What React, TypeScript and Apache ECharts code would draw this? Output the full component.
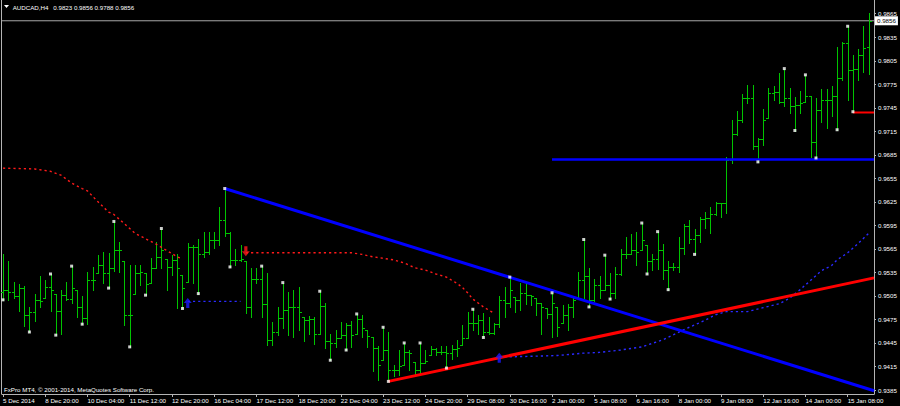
import React, { useEffect, useRef } from "react";
import * as echarts from "echarts";

// ---------- data ----------
const symbolName = "AUDCAD,H4";
const headerQuote = "0.9823 0.9856 0.9788 0.9856";
const copyright = "FxPro MT4, © 2001-2014, MetaQuotes Software Corp.";
const bidPrice = 0.9856;

const timeTickBars = [0, 8, 16, 24, 32, 40, 48, 56, 64, 72, 80, 88, 96, 104, 112, 120, 128, 136, 144, 152, 160];
const timeLabels = [
  "5 Dec 2014", "8 Dec 20:00", "10 Dec 04:00", "11 Dec 12:00", "12 Dec 20:00", "16 Dec 04:00",
  "17 Dec 12:00", "18 Dec 20:00", "22 Dec 04:00", "23 Dec 12:00", "24 Dec 20:00", "29 Dec 08:00",
  "30 Dec 16:00", "2 Jan 00:00", "5 Jan 08:00", "6 Jan 16:00", "8 Jan 00:00", "9 Jan 08:00",
  "12 Jan 16:00", "14 Jan 00:00", "15 Jan 08:00",
];
const priceTicks = [
  0.9385, 0.9415, 0.9445, 0.9475, 0.9505, 0.9535, 0.9565, 0.9595, 0.9625,
  0.9655, 0.9685, 0.9715, 0.9745, 0.9775, 0.9805, 0.9835, 0.9865,
];

const opens = [
  0.9510, 0.9513, 0.9510, 0.9505, 0.9515, 0.9481, 0.9484, 0.9500, 0.9502, 0.9517,
  0.9508, 0.9486, 0.9506, 0.9501, 0.9513, 0.9491, 0.9477, 0.9525, 0.9534, 0.9544,
  0.9534, 0.9541, 0.9564, 0.9550, 0.9481, 0.9508, 0.9534, 0.9534, 0.9521, 0.9540,
  0.9555, 0.9552, 0.9542, 0.9551, 0.9532, 0.9523, 0.9567, 0.9568, 0.9558, 0.9561,
  0.9576, 0.9576, 0.9602, 0.9585, 0.9551, 0.9551, 0.9549, 0.9491, 0.9527, 0.9527,
  0.9495, 0.9449, 0.9459, 0.9477, 0.9487, 0.9491, 0.9491, 0.9478, 0.9474, 0.9475,
  0.9457, 0.9492, 0.9447, 0.9445, 0.9451, 0.9455, 0.9468, 0.9457, 0.9475, 0.9461,
  0.9453, 0.9438, 0.9423, 0.9436, 0.9411, 0.9411, 0.9417, 0.9434, 0.9421, 0.9411,
  0.9419, 0.9430, 0.9437, 0.9433, 0.9433, 0.9432, 0.9437, 0.9442, 0.9451, 0.9470,
  0.9470, 0.9474, 0.9459, 0.9458, 0.9469, 0.9500, 0.9496, 0.9504, 0.9500, 0.9509,
  0.9506, 0.9502, 0.9496, 0.9489, 0.9482, 0.9491, 0.9470, 0.9481, 0.9491, 0.9502,
  0.9525, 0.9530, 0.9500, 0.9519, 0.9513, 0.9519, 0.9509, 0.9533, 0.9558, 0.9559,
  0.9564, 0.9564, 0.9570, 0.9550, 0.9552, 0.9564, 0.9538, 0.9542, 0.9542, 0.9566,
  0.9594, 0.9577, 0.9583, 0.9603, 0.9604, 0.9610, 0.9624, 0.9623, 0.9678, 0.9711,
  0.9729, 0.9758, 0.9758, 0.9696, 0.9705, 0.9732, 0.9764, 0.9765, 0.9753, 0.9757,
  0.9747, 0.9749, 0.9753, 0.9760, 0.9701, 0.9742, 0.9755, 0.9755, 0.9760, 0.9783,
  0.9828, 0.9793, 0.9795, 0.9812, 0.9823,
];
const highs = [
  0.9558, 0.9549, 0.9523, 0.9520, 0.9518, 0.9491, 0.9508, 0.9530, 0.9525, 0.9533,
  0.9508, 0.9513, 0.9523, 0.9543, 0.9513, 0.9505, 0.9535, 0.9542, 0.9557, 0.9561,
  0.9560, 0.9600, 0.9574, 0.9550, 0.9544, 0.9544, 0.9544, 0.9534, 0.9554, 0.9574,
  0.9591, 0.9552, 0.9557, 0.9558, 0.9532, 0.9572, 0.9570, 0.9578, 0.9586, 0.9586,
  0.9587, 0.9619, 0.9642, 0.9587, 0.9565, 0.9570, 0.9549, 0.9540, 0.9540, 0.9543,
  0.9534, 0.9472, 0.9491, 0.9522, 0.9510, 0.9513, 0.9516, 0.9478, 0.9479, 0.9478,
  0.9511, 0.9496, 0.9456, 0.9462, 0.9472, 0.9470, 0.9473, 0.9482, 0.9481, 0.9461,
  0.9453, 0.9441, 0.9465, 0.9459, 0.9417, 0.9436, 0.9445, 0.9436, 0.9421, 0.9445,
  0.9436, 0.9441, 0.9438, 0.9441, 0.9441, 0.9443, 0.9449, 0.9468, 0.9485, 0.9488,
  0.9481, 0.9483, 0.9478, 0.9470, 0.9505, 0.9517, 0.9529, 0.9504, 0.9521, 0.9522,
  0.9506, 0.9502, 0.9496, 0.9489, 0.9509, 0.9491, 0.9493, 0.9495, 0.9504, 0.9536,
  0.9577, 0.9540, 0.9527, 0.9530, 0.9557, 0.9534, 0.9542, 0.9565, 0.9580, 0.9584,
  0.9587, 0.9598, 0.9570, 0.9559, 0.9587, 0.9571, 0.9549, 0.9547, 0.9580, 0.9597,
  0.9602, 0.9591, 0.9606, 0.9612, 0.9618, 0.9625, 0.9624, 0.9682, 0.9729, 0.9741,
  0.9763, 0.9774, 0.9774, 0.9706, 0.9743, 0.9770, 0.9773, 0.9790, 0.9795, 0.9770,
  0.9759, 0.9766, 0.9787, 0.9760, 0.9757, 0.9769, 0.9769, 0.9773, 0.9822, 0.9829,
  0.9849, 0.9812, 0.9820, 0.9849, 0.9866,
];
const lows = [
  0.9500, 0.9500, 0.9502, 0.9486, 0.9467, 0.9459, 0.9473, 0.9491, 0.9502, 0.9486,
  0.9455, 0.9457, 0.9500, 0.9496, 0.9478, 0.9469, 0.9469, 0.9513, 0.9534, 0.9521,
  0.9515, 0.9537, 0.9536, 0.9468, 0.9440, 0.9508, 0.9519, 0.9506, 0.9521, 0.9540,
  0.9540, 0.9513, 0.9532, 0.9489, 0.9489, 0.9523, 0.9521, 0.9508, 0.9555, 0.9558,
  0.9566, 0.9570, 0.9581, 0.9542, 0.9544, 0.9549, 0.9483, 0.9478, 0.9521, 0.9478,
  0.9442, 0.9442, 0.9455, 0.9464, 0.9455, 0.9453, 0.9462, 0.9447, 0.9457, 0.9444,
  0.9457, 0.9438, 0.9423, 0.9440, 0.9451, 0.9436, 0.9440, 0.9457, 0.9452, 0.9440,
  0.9409, 0.9398, 0.9423, 0.9396, 0.9403, 0.9404, 0.9417, 0.9411, 0.9404, 0.9406,
  0.9419, 0.9430, 0.9430, 0.9431, 0.9413, 0.9424, 0.9428, 0.9442, 0.9451, 0.9462,
  0.9457, 0.9452, 0.9456, 0.9457, 0.9466, 0.9478, 0.9491, 0.9484, 0.9487, 0.9495,
  0.9493, 0.9481, 0.9457, 0.9477, 0.9453, 0.9454, 0.9470, 0.9462, 0.9478, 0.9502,
  0.9502, 0.9491, 0.9498, 0.9502, 0.9513, 0.9501, 0.9502, 0.9532, 0.9554, 0.9559,
  0.9544, 0.9564, 0.9533, 0.9538, 0.9539, 0.9526, 0.9513, 0.9538, 0.9536, 0.9559,
  0.9573, 0.9558, 0.9574, 0.9592, 0.9585, 0.9608, 0.9606, 0.9611, 0.9674, 0.9710,
  0.9727, 0.9751, 0.9693, 0.9676, 0.9697, 0.9732, 0.9755, 0.9751, 0.9747, 0.9738,
  0.9716, 0.9738, 0.9753, 0.9682, 0.9681, 0.9727, 0.9719, 0.9734, 0.9717, 0.9780,
  0.9755, 0.9740, 0.9780, 0.9791, 0.9788,
];
const closes = [
  0.9513, 0.9510, 0.9505, 0.9515, 0.9481, 0.9484, 0.9500, 0.9498, 0.9517, 0.9513,
  0.9486, 0.9506, 0.9501, 0.9515, 0.9491, 0.9477, 0.9525, 0.9525, 0.9544, 0.9534,
  0.9541, 0.9564, 0.9564, 0.9481, 0.9481, 0.9534, 0.9535, 0.9520, 0.9540, 0.9555,
  0.9564, 0.9542, 0.9551, 0.9540, 0.9515, 0.9567, 0.9568, 0.9558, 0.9561, 0.9576,
  0.9576, 0.9602, 0.9585, 0.9551, 0.9551, 0.9552, 0.9491, 0.9527, 0.9527, 0.9495,
  0.9449, 0.9459, 0.9477, 0.9487, 0.9491, 0.9491, 0.9484, 0.9474, 0.9475, 0.9457,
  0.9492, 0.9447, 0.9445, 0.9451, 0.9455, 0.9468, 0.9455, 0.9475, 0.9464, 0.9454,
  0.9438, 0.9417, 0.9436, 0.9411, 0.9411, 0.9415, 0.9434, 0.9432, 0.9411, 0.9419,
  0.9422, 0.9437, 0.9433, 0.9433, 0.9432, 0.9437, 0.9439, 0.9451, 0.9470, 0.9470,
  0.9474, 0.9459, 0.9458, 0.9469, 0.9500, 0.9496, 0.9513, 0.9500, 0.9509, 0.9506,
  0.9505, 0.9496, 0.9491, 0.9482, 0.9496, 0.9466, 0.9481, 0.9491, 0.9500, 0.9525,
  0.9530, 0.9500, 0.9519, 0.9513, 0.9519, 0.9509, 0.9533, 0.9558, 0.9559, 0.9564,
  0.9561, 0.9576, 0.9550, 0.9552, 0.9564, 0.9538, 0.9542, 0.9542, 0.9566, 0.9594,
  0.9577, 0.9583, 0.9603, 0.9604, 0.9610, 0.9624, 0.9623, 0.9678, 0.9711, 0.9729,
  0.9758, 0.9758, 0.9696, 0.9705, 0.9729, 0.9764, 0.9765, 0.9753, 0.9757, 0.9747,
  0.9749, 0.9751, 0.9760, 0.9701, 0.9742, 0.9755, 0.9755, 0.9760, 0.9783, 0.9828,
  0.9793, 0.9795, 0.9812, 0.9821, 0.9856,
];

const fractalHighBars = [9, 13, 21, 30, 42, 49, 53, 60, 67, 72, 76, 79, 89, 96, 104, 110, 114, 121, 124, 148, 152, 160];
const fractalLowBars = [0, 5, 10, 15, 20, 24, 27, 34, 37, 43, 62, 65, 73, 84, 91, 111, 115, 122, 126, 131, 143, 150, 154, 158, 161];

const redStop1 = [
  [0, 0.9668], [6, 0.9667], [9, 0.9664], [11, 0.9659], [13, 0.9649], [15, 0.9642], [16, 0.9639],
  [18, 0.9625], [20, 0.9612], [21, 0.9609], [23, 0.9597], [25, 0.9585], [27, 0.9578], [29, 0.9571],
  [31, 0.9563], [33, 0.9555], [34, 0.9552],
];
const blueStop1 = [[35, 0.9498], [45, 0.9498]];
const redStop2 = [
  [46, 0.9560], [56, 0.9560], [66, 0.9560], [68, 0.9558], [70, 0.9555], [72, 0.9553], [74, 0.9551],
  [76, 0.9547], [78, 0.9541], [80, 0.9538], [82, 0.9533], [84, 0.9529], [85, 0.9525], [86, 0.9521],
  [87, 0.9516], [88, 0.9509], [89, 0.9501], [90, 0.9496], [91, 0.9491], [92, 0.9487], [93, 0.9483],
];
const blueStop2 = [
  [94, 0.9427], [100, 0.9428], [105, 0.9429], [110, 0.9432], [113, 0.9433], [117, 0.9436], [121, 0.9440],
  [125, 0.9449], [129, 0.9462], [133, 0.9474], [135, 0.9481], [137, 0.9485], [141, 0.9485], [144, 0.9490],
  [147, 0.9495], [149, 0.9502], [151, 0.9513], [153, 0.9525], [155, 0.9537], [157, 0.9544], [158, 0.9551],
  [160, 0.9560], [162, 0.9572], [164, 0.9585],
];
const upArrows = [[35, 0.9496], [94, 0.9426]];
const downArrows = [[46, 0.9562]];

const blueTrend = [[42, 0.9642], [165, 0.9384]];
const redTrend = [[73, 0.9396], [165, 0.9528]];
const blueLevel = [[104, 0.9679], [165, 0.9679]];
const redLevel = [[161, 0.9739], [165, 0.9739]];

// ---------- styles ----------
const BG = "#000000";
const BAR = "#00c400";
const FRAME = "#b4b4b4";
const TEXT = "#ffffff";
const FONT = "Liberation Sans";
const FS = 6.2;
const X_MIN = -0.227;
const X_MAX = 164.99;
const Y_MIN = 0.93799;
const Y_MAX = 0.98825;

const ARROW_UP = "path://M5,0 L10,5 L7,5 L7,10 L3,10 L3,5 L0,5 Z";

export default function App() {
  const ref = useRef<HTMLDivElement>(null);

  useEffect(() => {
    if (!ref.current) return;
    const chart = echarts.init(ref.current, null, { renderer: "svg" });

    const ohlcData = opens.map((o, i) => [i, o, highs[i], lows[i], closes[i]]);
    const fractals = [
      ...fractalHighBars.map((i) => [i, highs[i]]),
      ...fractalLowBars.map((i) => [i, lows[i]]),
    ];

    const renderOhlc = (_params: any, api: any) => {
      const i = api.value(0);
      const pO = api.coord([i, api.value(1)]);
      const pH = api.coord([i, api.value(2)]);
      const pL = api.coord([i, api.value(3)]);
      const pC = api.coord([i, api.value(4)]);
      const x = Math.round(pH[0]) + 0.5;
      const snap = (y: number) => Math.round(y) + 0.5;
      const style = { stroke: BAR, lineWidth: 1, fill: null };
      return {
        type: "group",
        children: [
          { type: "line", shape: { x1: x, y1: Math.round(pH[1]), x2: x, y2: Math.round(pL[1]) + 1 }, style },
          { type: "line", shape: { x1: x - 2.5, y1: snap(pO[1]), x2: x - 0.5, y2: snap(pO[1]) }, style },
          { type: "line", shape: { x1: x + 0.5, y1: snap(pC[1]), x2: x + 2.5, y2: snap(pC[1]) }, style },
        ],
      };
    };

    const dotLine = (data: number[][], color: string) => ({
      type: "line",
      data,
      symbol: "none",
      silent: true,
      z: 3,
      lineStyle: { color, width: 1.4, type: [2.2, 3.0] },
    });
    const thickLine = (data: number[][], color: string, width: number) => ({
      type: "line",
      data,
      symbol: "none",
      silent: true,
      z: 4,
      lineStyle: { color, width, type: "solid" },
    });

    chart.setOption({
      animation: false,
      backgroundColor: BG,
      grid: { left: 1, right: 26, top: 0, bottom: 12, show: false },
      xAxis: {
        type: "value",
        min: X_MIN,
        max: X_MAX,
        axisLine: { show: true, onZero: false, lineStyle: { color: FRAME, width: 1 } },
        axisTick: { show: true, customValues: timeTickBars, length: 3, lineStyle: { color: FRAME } },
        axisLabel: {
          customValues: timeTickBars,
          formatter: (v: number) => timeLabels[timeTickBars.indexOf(Math.round(v))] ?? "",
          align: "left",
          margin: 3,
          color: TEXT,
          fontSize: FS,
          fontFamily: FONT,
        },
        splitLine: { show: false },
      },
      yAxis: {
        type: "value",
        position: "right",
        min: Y_MIN,
        max: Y_MAX,
        axisLine: { show: true, onZero: false, lineStyle: { color: FRAME, width: 1 } },
        axisTick: { show: true, customValues: priceTicks, length: 2, lineStyle: { color: FRAME } },
        axisLabel: {
          customValues: priceTicks,
          formatter: (v: number) => v.toFixed(4),
          margin: 4,
          color: TEXT,
          fontSize: FS,
          fontFamily: FONT,
        },
        splitLine: { show: false },
      },
      series: [
        {
          type: "line",
          data: [[X_MIN, bidPrice], [X_MAX, bidPrice]],
          symbol: "none",
          silent: true,
          clip: false,
          z: 1,
          lineStyle: { color: "#a8a8a8", width: 1, type: "solid" },
          endLabel: {
            show: true,
            formatter: () => bidPrice.toFixed(4),
            distance: 1,
            color: "#000000",
            backgroundColor: "#ffffff",
            padding: [2, 2, 1, 2],
            fontSize: FS,
            fontFamily: FONT,
          },
        },
        {
          type: "custom",
          renderItem: renderOhlc,
          data: ohlcData,
          encode: { x: 0, y: [1, 2, 3, 4] },
          clip: true,
          silent: true,
          z: 2,
        },
        dotLine(redStop1, "#ff1a1a"),
        dotLine(blueStop1, "#2a2aff"),
        dotLine(redStop2, "#ff1a1a"),
        dotLine(blueStop2, "#2a2aff"),
        thickLine(blueTrend, "#0000ff", 3),
        thickLine(redTrend, "#ff0000", 3),
        thickLine(blueLevel, "#0000ff", 2.5),
        thickLine(redLevel, "#ff0000", 2),
        {
          type: "scatter",
          data: fractals,
          symbol: "rect",
          symbolSize: 3,
          itemStyle: { color: "#ffffff" },
          silent: true,
          z: 6,
        },
        {
          type: "scatter",
          data: upArrows,
          symbol: ARROW_UP,
          symbolSize: [8, 10],
          itemStyle: { color: "#1a1aff" },
          silent: true,
          z: 6,
        },
        {
          type: "scatter",
          data: downArrows,
          symbol: ARROW_UP,
          symbolRotate: 180,
          symbolSize: [8, 10],
          itemStyle: { color: "#ff1a1a" },
          silent: true,
          z: 6,
        },
      ],
      graphic: [
        {
          type: "line",
          shape: { x1: 1.5, y1: 0, x2: 1.5, y2: 394 },
          style: { stroke: FRAME, lineWidth: 1 },
          silent: true,
        },
        {
          type: "polygon",
          shape: { points: [[4, 5], [9, 5], [6.5, 8]] },
          style: { fill: TEXT },
          silent: true,
        },
        {
          type: "text",
          x: 12.7,
          y: 7,
          style: { text: symbolName, fill: TEXT, fontSize: FS, fontFamily: FONT, verticalAlign: "middle" },
          silent: true,
        },
        {
          type: "text",
          x: 53.3,
          y: 7,
          style: { text: headerQuote, fill: TEXT, fontSize: FS, fontFamily: FONT, verticalAlign: "middle" },
          silent: true,
        },
        {
          type: "text",
          x: 4,
          y: 389.5,
          style: { text: copyright, fill: TEXT, fontSize: FS, fontFamily: FONT, verticalAlign: "middle" },
          silent: true,
        },
      ],
    });

    return () => chart.dispose();
  }, []);

  return (
    <div
      ref={ref}
      style={{ position: "fixed", left: 0, top: 0, width: 900, height: 406, background: BG }}
    />
  );
}
